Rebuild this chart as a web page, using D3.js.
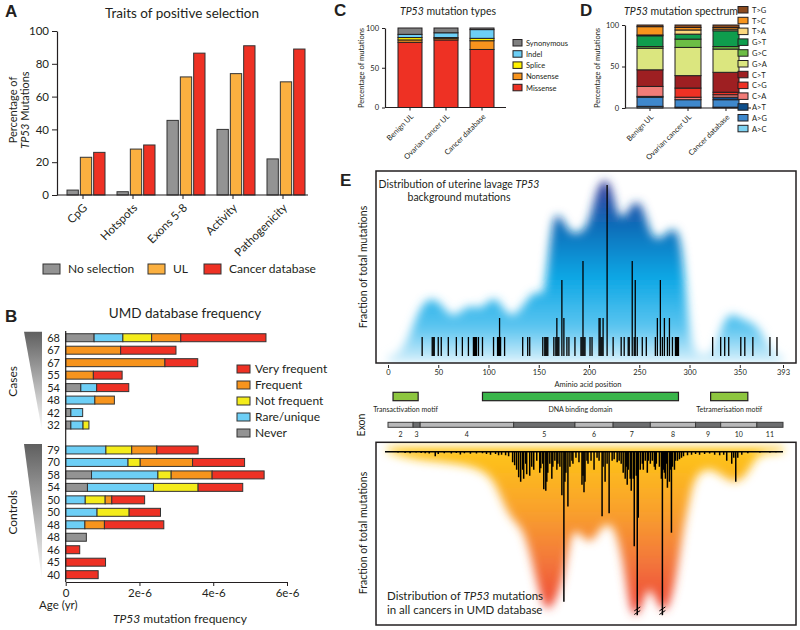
<!DOCTYPE html>
<html>
<head>
<meta charset="utf-8">
<script src="https://cdn.jsdelivr.net/npm/d3@7"></script>
<style>
  body { margin: 0; background: #fff; }
  svg { font-family: Lato, "Open Sans", sans-serif; }
</style>
</head>
<body>
<div id="chart"></div>
<script>
// ---------- Panel A data ----------
var aCats = ["CpG", "Hotspots", "Exons 5-8", "Activity", "Pathogenicity"];
var aNoSelection = [3, 2, 45.5, 40, 22];
var aUL = [23, 28, 72, 74, 69];
var aCancerDb = [26, 30.5, 86.5, 91, 89];
var aSeriesNames = ["No selection", "UL", "Cancer database"];
var aTicks = [0, 20, 40, 60, 80, 100];

// ---------- Panel B data (mutation frequency, x 1e-6) ----------
var bAges = [68, 67, 67, 55, 54, 48, 42, 32, 79, 70, 58, 54, 50, 50, 48, 48, 46, 45, 40];
var bGroup = ["Cases", "Cases", "Cases", "Cases", "Cases", "Cases", "Cases", "Cases",
  "Controls", "Controls", "Controls", "Controls", "Controls", "Controls", "Controls", "Controls", "Controls", "Controls", "Controls"];
var bNever = [0.77, 0, 0, 0, 0.41, 0, 0.14, 0.14, 0, 0, 0.70, 0.59, 0, 0, 0, 0.56, 0, 0, 0];
var bRare = [0.78, 0, 0, 0, 0.43, 0.79, 0.32, 0.33, 1.09, 1.69, 1.80, 1.79, 0.53, 0.85, 0.52, 0, 0, 0, 0];
var bNotFrequent = [0.78, 0, 0, 0, 0, 0, 0, 0.16, 0.70, 0.33, 0.36, 1.21, 0.54, 0.87, 0, 0, 0, 0, 0];
var bFrequent = [0.79, 1.49, 2.69, 0.75, 0, 0.53, 0, 0, 0.68, 1.42, 1.11, 0, 0.18, 0, 0.53, 0, 0, 0, 0];
var bVeryFrequent = [2.31, 1.50, 0.89, 0.78, 0.87, 0, 0, 0, 1.12, 1.41, 1.41, 1.21, 0.89, 0.85, 1.61, 0, 0.38, 1.08, 0.88];
var bKeys = ["Never", "Rare/unique", "Not frequent", "Frequent", "Very frequent"];
var bTicks = [0, 2, 4, 6];

// ---------- Panel C data ----------
var cCats = ["Benign UL", "Ovarian cancer UL", "Cancer database"];
var cKeys = ["Missense", "Nonsense", "Splice", "Indel", "Synonymous"];
var cMissense = [82, 85, 73];
var cNonsense = [3, 2, 11];
var cSplice = [3, 1, 3];
var cIndel = [4, 6, 11];
var cSynonymous = [8, 6, 2];

// ---------- Panel D data ----------
var dKeys = ["A>C", "A>G", "A>T", "C>A", "C>G", "C>T", "G>A", "G>C", "G>T", "T>A", "T>C", "T>G"];
var dBenign = [2, 11, 1, 12, 0, 20, 26, 2, 13, 1, 10, 2];
var dOvarian = [1, 9, 0, 3, 11, 15, 34, 10, 6, 5, 3, 3];
var dCancer = [1, 9, 3, 3, 3, 24, 28, 3, 19, 2, 2, 3];

// ---------- Panel E data ----------
var eTicks = [0, 50, 100, 150, 200, 250, 300, 350, 393];
var domNames = ["Transactivation motif", "DNA binding domain", "Tetramerisation motif"];
var domStart = [5, 94, 321];
var domEnd = [30, 289, 358];
var exonNames = ["2", "3", "4", "5", "6", "7", "8", "9", "10", "11"];
var exonStart = [1, 26, 33, 126, 187, 225, 262, 307, 332, 368];
var exonEnd = [25, 32, 125, 186, 224, 261, 306, 331, 367, 393];

// uterine lavage background mutations (count per position) and density envelope
var topEnvPos = [0, 8, 20, 30, 42, 55, 65, 80, 92, 100, 108, 115, 125, 135, 148, 155, 160, 165, 172, 180, 190, 200, 207, 215, 222, 228, 235, 242, 250, 256, 262, 270, 278, 285, 292, 297, 302, 315, 325, 332, 340, 350, 360, 369, 378, 386, 393];
var topEnvVal = [0, 0, 0.8, 2.4, 3.2, 2.6, 1.9, 2.8, 2.4, 2.9, 3.1, 2.4, 2.0, 2.7, 3.6, 2.9, 5.5, 7.5, 7.4, 6.5, 6.4, 6.9, 8.7, 9.4, 9.0, 7.4, 7.2, 8.0, 8.2, 7.4, 6.3, 6.1, 6.5, 6.8, 6.1, 2.9, 0.2, 0, 0.3, 1.6, 2.3, 2.0, 1.8, 1.5, 0.6, 0, 0];
var topMutPos = [34, 44, 45, 46, 50, 53, 60, 68, 74, 80, 85, 86, 87, 88, 90, 94, 105, 109, 110, 111,
  112, 116, 134, 139, 141, 154, 156, 157, 158, 159, 165, 167, 168, 169, 170, 173, 175, 178, 180, 186,
  192, 193, 194, 195, 196, 201, 203, 210, 211, 212, 213, 214, 218, 224, 232, 235, 239, 240, 243, 245,
  246, 248, 253, 257, 266, 268, 271, 273, 275, 278, 280, 283, 286, 287, 288, 289, 323, 331, 335, 339,
  351, 355, 363, 380, 387];
var topMutCount = [1, 1, 1, 1, 1, 1, 1, 1, 1, 1, 1, 1, 1, 1, 1, 1, 1, 1, 1, 2,
  1, 1, 1, 1, 1, 1, 1, 1, 1, 1, 1, 1, 2, 1, 1, 4, 2, 1, 1, 1,
  1, 1, 5, 1, 1, 1, 1, 2, 2, 1, 1, 2, 9, 1, 1, 1, 1, 1, 5, 1,
  4, 1, 1, 1, 1, 2, 4, 1, 2, 1, 2, 1, 1, 1, 1, 1, 1, 1, 1, 1,
  1, 1, 1, 1, 1];

// UMD database, % of all mutations per position and density envelope
var botEnvPos = [0, 25, 75, 101, 111, 121, 133, 141, 151, 159, 167, 174, 181, 187, 201, 211, 224, 234, 240, 247, 255, 260, 270, 277, 286, 293, 300, 306, 323, 340, 353, 363, 369, 393];
var botEnvVal = [0, 0.28, 0.4, 0.7, 1.4, 2.2, 2.5, 3.3, 4.8, 5.4, 4.9, 4.3, 2.9, 2.5, 3.2, 2.5, 2.3, 3.6, 5.2, 5.6, 4.9, 4.4, 5.2, 5.4, 4.4, 2.7, 1.6, 0.7, 0.5, 1.05, 0.95, 0.4, 0.05, 0];
var botMutPos = [10, 17, 22, 28, 33, 37, 41, 47, 50, 56, 63, 68, 72, 76, 82, 88, 94, 98, 102, 107,
  110, 113, 117, 120, 124, 126, 128, 130, 132, 134, 135, 137, 138, 141, 143, 145, 148, 151, 152, 154,
  155, 157, 158, 159, 161, 163, 164, 166, 168, 169, 171, 173, 175, 176, 177, 179, 181, 183, 184, 187,
  190, 193, 194, 195, 196, 198, 199, 202, 205, 208, 210, 213, 214, 216, 218, 220, 223, 225, 228, 230,
  232, 234, 236, 237, 238, 239, 241, 242, 244, 245, 247, 248, 249, 251, 253, 254, 256, 258, 259, 261,
  263, 265, 266, 267, 270, 272, 273, 274, 275, 276, 277, 278, 280, 281, 282, 283, 285, 286, 288, 290,
  292, 294, 298, 302, 306, 310, 315, 320, 325, 330, 334, 337, 342, 344, 346, 348, 352, 358, 370, 380, 386];
var botMutPct = [0.03, 0.04, 0.05, 0.03, 0.04, 0.05, 0.06, 0.15, 0.08, 0.05, 0.06, 0.04, 0.09, 0.05, 0.07, 0.06, 0.05, 0.08, 0.1, 0.08,
  0.12, 0.1, 0.12, 0.15, 0.35, 0.45, 0.6, 0.85, 1.0, 0.6, 0.9, 0.4, 0.75, 0.8, 0.5, 0.6, 0.3, 0.7, 0.55, 0.4,
  1.25, 1.3, 1.0, 0.7, 0.4, 0.9, 0.5, 0.3, 0.6, 0.4, 0.5, 1.45, 5.0, 1.0, 0.7, 1.83, 0.5, 0.3, 0.4, 0.2,
  0.35, 1.1, 0.8, 1.35, 1.0, 0.3, 0.4, 0.3, 0.6, 0.2, 0.3, 2.15, 0.5, 1.0, 0.4, 2.05, 0.3, 0.25, 0.35, 0.3,
  0.4, 0.7, 0.9, 0.5, 1.1, 0.6, 0.9, 1.3, 0.9, 3.15, 0.8, 7.0, 2.2, 0.6, 0.4, 0.6, 0.3, 0.7, 0.3, 0.4,
  0.3, 0.5, 0.6, 0.4, 0.5, 0.9, 6.2, 0.6, 0.7, 0.9, 0.4, 1.2, 1.0, 0.6, 2.7, 0.5, 0.6, 0.3, 0.3, 0.25,
  0.2, 0.15, 0.12, 0.1, 0.08, 0.1, 0.08, 0.06, 0.1, 0.12, 0.1, 0.3, 0.4, 0.2, 1.0, 0.2, 0.1, 0.05, 0.03, 0.03, 0.02];

var ink = "#231f20";

var svg = d3.select("#chart").append("svg")
  .attr("width", 800)
  .attr("height", 630);
svg.append("rect").attr("width", 800).attr("height", 630).attr("fill", "#fff");
var defs = svg.append("defs");

function styleAxis(g, fs) {
  g.attr("font-family", "Lato").attr("font-size", fs);
  g.select(".domain").attr("stroke", ink).attr("stroke-width", 1.2);
  g.selectAll(".tick line").attr("stroke", ink);
  g.selectAll(".tick text").attr("fill", ink);
}

function letter(t, x, y) {
  svg.append("text").attr("x", x).attr("y", y).text(t)
    .attr("font-family", "Liberation Sans, Arial, sans-serif")
    .attr("font-weight", "bold").attr("font-size", 17).attr("fill", ink);
}

// italic gene name helper
function geneText(sel, before, after) {
  if (before) sel.append("tspan").text(before);
  sel.append("tspan").attr("font-style", "italic").text("TP53");
  sel.append("tspan").text(after);
}

// ================= Panel A =================
letter("A", 5, 17);
var gA = svg.append("g");
gA.append("text").attr("x", 182).attr("y", 18).attr("text-anchor", "middle")
  .attr("font-size", 13.5).attr("fill", ink).text("Traits of positive selection");

var xA = d3.scaleBand().domain(aCats).range([58, 308]);
var xAin = d3.scaleBand().domain([0, 1, 2]).range([9, 47]).paddingInner(0.15);
var yA = d3.scaleLinear().domain([0, 100]).range([195, 31]);
var aColors = ["#939393", "#fbb040", "#ee3124"];
[aNoSelection, aUL, aCancerDb].forEach(function(vals, si) {
  gA.selectAll(null).data(vals).enter().append("rect")
    .attr("x", (d, i) => xA(aCats[i]) + xAin(si))
    .attr("y", d => yA(d))
    .attr("width", xAin.bandwidth())
    .attr("height", d => yA(0) - yA(d))
    .attr("fill", aColors[si])
    .attr("stroke", "#333").attr("stroke-width", 1);
});
var yAxisA = gA.append("g").attr("transform", "translate(57,0)")
  .call(d3.axisLeft(yA).tickValues(aTicks).tickSize(5).tickSizeOuter(0));
styleAxis(yAxisA, 11.5);
var xAxisA = gA.append("g").attr("transform", "translate(0,195)")
  .call(d3.axisBottom(xA).tickSize(4).tickSizeOuter(0));
styleAxis(xAxisA, 11.5);
xAxisA.select(".domain").attr("d", "M57,0H308");
xAxisA.selectAll(".tick text")
  .attr("x", -6).attr("y", 9).attr("dy", "0.35em")
  .attr("transform", "rotate(-45)").style("text-anchor", "end");

gA.append("text").attr("transform", "translate(17,110) rotate(-90)")
  .attr("text-anchor", "middle").attr("font-size", 11).attr("fill", ink).text("Percentage of");
var yLabA2 = gA.append("text").attr("transform", "translate(29,110) rotate(-90)")
  .attr("text-anchor", "middle").attr("font-size", 11).attr("fill", ink);
geneText(yLabA2, "", " Mutations");

var aLegX = [43, 148, 204];
aSeriesNames.forEach(function(n, i) {
  gA.append("rect").attr("x", aLegX[i]).attr("y", 264).attr("width", 17).attr("height", 10)
    .attr("fill", aColors[i]).attr("stroke", "#333");
  gA.append("text").attr("x", aLegX[i] + 25).attr("y", 273).attr("font-size", 12)
    .attr("fill", ink).text(n);
});

// ================= Panel B =================
letter("B", 5, 322);
var gB = svg.append("g");
gB.append("text").attr("x", 185).attr("y", 318).attr("text-anchor", "middle")
  .attr("font-size", 13.5).attr("fill", ink).text("UMD database frequency");

var bRows = bAges.map(function(age, i) {
  return {
    slot: bGroup[i] === "Cases" ? i : i + 1,
    age: age,
    "Never": bNever[i],
    "Rare/unique": bRare[i],
    "Not frequent": bNotFrequent[i],
    "Frequent": bFrequent[i],
    "Very frequent": bVeryFrequent[i]
  };
});
var bColors = d3.scaleOrdinal().domain(bKeys)
  .range(["#939393", "#6dcff6", "#f4ec1b", "#f7941d", "#ee3124"]);
var xB = d3.scaleLinear().domain([0, 6]).range([65.7, 287]);
var yB = d3.scaleBand().domain(d3.range(20)).range([331.5, 580.9])
  .paddingInner(0.36).paddingOuter(0.18);

var bStack = d3.stack().keys(bKeys)(bRows);
gB.selectAll("g.layer").data(bStack).enter().append("g")
  .attr("fill", d => bColors(d.key))
  .selectAll("rect").data(d => d.filter(s => s[1] - s[0] > 0)).enter().append("rect")
  .attr("x", d => xB(d[0]))
  .attr("y", d => yB(d.data.slot))
  .attr("width", d => xB(d[1]) - xB(d[0]))
  .attr("height", yB.bandwidth())
  .attr("stroke", "#333").attr("stroke-width", 1);

gB.selectAll("text.age").data(bRows).enter().append("text")
  .attr("x", 60).attr("y", d => yB(d.slot) + yB.bandwidth() / 2).attr("dy", "0.36em")
  .attr("text-anchor", "end").attr("font-size", 11).attr("fill", ink)
  .text(d => d.age);

gB.append("line").attr("x1", xB(0)).attr("x2", xB(0)).attr("y1", 331).attr("y2", 582)
  .attr("stroke", ink).attr("stroke-width", 1.2);
var xAxisB = gB.append("g").attr("transform", "translate(0,582)")
  .call(d3.axisBottom(xB).tickValues(bTicks).tickSize(4).tickSizeOuter(0)
    .tickFormat(d => d === 0 ? "0" : d + "e-6"));
styleAxis(xAxisB, 11.5);
gB.append("text").attr("x", 39).attr("y", 609).attr("font-size", 11.5).attr("fill", ink).text("Age (yr)");
var xLabB = gB.append("text").attr("x", 180).attr("y", 623).attr("text-anchor", "middle")
  .attr("font-size", 12).attr("fill", ink);
geneText(xLabB, "", " mutation frequency");

// group wedges
var wedgeGrad = defs.append("linearGradient").attr("id", "wedge")
  .attr("x1", 0).attr("y1", 0).attr("x2", 0).attr("y2", 1);
wedgeGrad.append("stop").attr("offset", 0).attr("stop-color", "#5f5f5f");
wedgeGrad.append("stop").attr("offset", 1).attr("stop-color", "#ffffff");
[["Cases", 0, 7], ["Controls", 9, 19]].forEach(function(g) {
  var top = yB(g[1]) - 2, bot = yB(g[2]) + yB.bandwidth() + 2;
  gB.append("path").attr("d", "M24," + top + "L42," + top + "L42," + bot + "Z")
    .attr("fill", "url(#wedge)");
  gB.append("text").attr("transform", "translate(17," + ((top + bot) / 2) + ") rotate(-90)")
    .attr("text-anchor", "middle").attr("font-size", 12).attr("fill", ink).text(g[0]);
});

var bLegKeys = bKeys.slice().reverse();
bLegKeys.forEach(function(k, i) {
  var y = 365 + i * 16;
  gB.append("rect").attr("x", 237).attr("y", y).attr("width", 13).attr("height", 8)
    .attr("fill", bColors(k)).attr("stroke", "#333");
  gB.append("text").attr("x", 255).attr("y", y + 8).attr("font-size", 12).attr("fill", ink).text(k);
});

// ================= Panel C =================
letter("C", 334, 16);
var gC = svg.append("g");
var titleC = gC.append("text").attr("x", 448).attr("y", 15).attr("text-anchor", "middle")
  .attr("font-size", 10.5).attr("fill", ink);
geneText(titleC, "", " mutation types");

var cRows = cCats.map(function(c, i) {
  return { cat: c, "Missense": cMissense[i], "Nonsense": cNonsense[i], "Splice": cSplice[i],
    "Indel": cIndel[i], "Synonymous": cSynonymous[i] };
});
var cColors = d3.scaleOrdinal().domain(cKeys)
  .range(["#ee3124", "#f7941d", "#fff200", "#6dcff6", "#808080"]);
var xC = d3.scaleBand().domain(cCats).range([386, 506]).padding(1 / 3);
var yC = d3.scaleLinear().domain([0, 100]).range([107.5, 28]);
gC.selectAll("g.layer").data(d3.stack().keys(cKeys)(cRows)).enter().append("g")
  .attr("fill", d => cColors(d.key))
  .selectAll("rect").data(d => d.filter(s => s[1] - s[0] > 0)).enter().append("rect")
  .attr("x", d => xC(d.data.cat))
  .attr("y", d => yC(d[1]))
  .attr("width", xC.bandwidth())
  .attr("height", d => yC(d[0]) - yC(d[1]))
  .attr("stroke", ink).attr("stroke-width", 1);
var yAxisC = gC.append("g").attr("transform", "translate(385,0)")
  .call(d3.axisLeft(yC).tickValues([0, 50, 100]).tickSize(3).tickSizeOuter(0));
styleAxis(yAxisC, 7.5);
var xAxisC = gC.append("g").attr("transform", "translate(0,107.5)")
  .call(d3.axisBottom(xC).tickSize(3).tickSizeOuter(0));
styleAxis(xAxisC, 7.5);
xAxisC.select(".domain").attr("d", "M385,0H506");
xAxisC.selectAll(".tick text").attr("x", -4).attr("y", 7).attr("dy", "0.35em")
  .attr("transform", "rotate(-45)").style("text-anchor", "end");
gC.append("text").attr("transform", "translate(364,68) rotate(-90)").attr("text-anchor", "middle")
  .attr("font-size", 7.5).attr("fill", ink).text("Percentage of mutations");
cKeys.slice().reverse().forEach(function(k, i) {
  var y = 39.5 + i * 11.2;
  gC.append("rect").attr("x", 513).attr("y", y).attr("width", 9).attr("height", 6.5)
    .attr("fill", cColors(k)).attr("stroke", ink);
  gC.append("text").attr("x", 526).attr("y", y + 6.3).attr("font-size", 7.5).attr("fill", ink).text(k);
});

// ================= Panel D =================
letter("D", 580, 16);
var gD = svg.append("g");
var titleD = gD.append("text").attr("x", 681).attr("y", 15).attr("text-anchor", "middle")
  .attr("font-size", 10.5).attr("fill", ink);
geneText(titleD, "", " mutation spectrum");

var dSeries = [dBenign, dOvarian, dCancer];
var dRows = cCats.map(function(c, i) {
  var r = { cat: c };
  dKeys.forEach(function(k, j) { r[k] = dSeries[i][j]; });
  return r;
});
var dColors = d3.scaleOrdinal().domain(dKeys)
  .range(["#7fd3f2", "#3f88cc", "#0d4e8b", "#f27c78", "#ee3124", "#9e1f22",
    "#dbe67f", "#6cbd45", "#0f9d4d", "#fdd77e", "#f7941d", "#8b4a1e"]);
var xD = d3.scaleBand().domain(cCats).range([625, 751]).padding(0.316);
var yD = d3.scaleLinear().domain([0, 100]).range([108, 25]);
gD.selectAll("g.layer").data(d3.stack().keys(dKeys)(dRows)).enter().append("g")
  .attr("fill", d => dColors(d.key))
  .selectAll("rect").data(d => d.filter(s => s[1] - s[0] > 0)).enter().append("rect")
  .attr("x", d => xD(d.data.cat))
  .attr("y", d => yD(d[1]))
  .attr("width", xD.bandwidth())
  .attr("height", d => yD(d[0]) - yD(d[1]))
  .attr("stroke", ink).attr("stroke-width", 1);
var yAxisD = gD.append("g").attr("transform", "translate(625,0)")
  .call(d3.axisLeft(yD).tickValues([0, 50, 100]).tickSize(3).tickSizeOuter(0));
styleAxis(yAxisD, 7.5);
var xAxisD = gD.append("g").attr("transform", "translate(0,108)")
  .call(d3.axisBottom(xD).tickSize(3).tickSizeOuter(0));
styleAxis(xAxisD, 7.5);
xAxisD.select(".domain").attr("d", "M625,0H751");
xAxisD.selectAll(".tick text").attr("x", -4).attr("y", 7).attr("dy", "0.35em")
  .attr("transform", "rotate(-45)").style("text-anchor", "end");
gD.append("text").attr("transform", "translate(600,68) rotate(-90)").attr("text-anchor", "middle")
  .attr("font-size", 7.5).attr("fill", ink).text("Percentage of mutations");
dKeys.slice().reverse().forEach(function(k, i) {
  var y = 6.5 + i * 10.8;
  gD.append("rect").attr("x", 738).attr("y", y).attr("width", 10).attr("height", 6.5)
    .attr("fill", dColors(k)).attr("stroke", ink);
  gD.append("text").attr("x", 752).attr("y", y + 6.3).attr("font-size", 7.5).attr("fill", ink).text(k);
});

// ================= Panel E =================
letter("E", 340, 186);
var gE = svg.append("g");
var xE = d3.scaleLinear().domain([0, 393]).range([388, 783]);
var yET = d3.scaleLinear().domain([0, 10]).range([356, 166]);
var yEB = d3.scaleLinear().domain([0, 5.5]).range([451.7, 616.7]);

var blur = defs.append("filter").attr("id", "blur")
  .attr("x", "-10%").attr("y", "-20%").attr("width", "120%").attr("height", "140%");
blur.append("feGaussianBlur").attr("stdDeviation", 5);

var gradTop = defs.append("linearGradient").attr("id", "gradTop")
  .attr("gradientUnits", "userSpaceOnUse").attr("x1", 0).attr("x2", 0).attr("y1", 172).attr("y2", 362);
[[0, "#3a2c8c"], [0.12, "#2d4ba6"], [0.3, "#0a70bb"], [0.55, "#0aa6e4"], [0.82, "#5cc5f0"], [1, "#d6f0fb"]]
  .forEach(s => gradTop.append("stop").attr("offset", s[0]).attr("stop-color", s[1]));
var gradBot = defs.append("linearGradient").attr("id", "gradBot")
  .attr("gradientUnits", "userSpaceOnUse").attr("x1", 0).attr("x2", 0).attr("y1", 452).attr("y2", 618);
[[0, "#fec418"], [0.35, "#f9a12c"], [0.65, "#f3783a"], [1, "#ee3e38"]]
  .forEach(s => gradBot.append("stop").attr("offset", s[0]).attr("stop-color", s[1]));

defs.append("clipPath").attr("id", "clipTop").append("rect")
  .attr("x", 376).attr("y", 171).attr("width", 420).attr("height", 192);
defs.append("clipPath").attr("id", "clipBot").append("rect")
  .attr("x", 376).attr("y", 442.3).attr("width", 420).attr("height", 182.7);

// top: background mutations
var topEnv = topEnvPos.map((p, i) => [p, topEnvVal[i]]);
var gTop = gE.append("g").attr("clip-path", "url(#clipTop)");
gTop.append("path").datum(topEnv)
  .attr("d", d3.area().curve(d3.curveBasis).x(d => xE(d[0])).y0(yET(-0.4)).y1(d => yET(d[1])))
  .attr("fill", "url(#gradTop)").attr("filter", "url(#blur)");
gTop.selectAll("line.mut").data(topMutPos).enter().append("line")
  .attr("x1", d => xE(d)).attr("x2", d => xE(d))
  .attr("y1", yET(0)).attr("y2", (d, i) => yET(topMutCount[i]))
  .attr("stroke", "#000").attr("stroke-width", 1.3);
gE.append("rect").attr("x", 376).attr("y", 171).attr("width", 420).attr("height", 192)
  .attr("fill", "none").attr("stroke", ink).attr("stroke-width", 1.5);

var topTitle = gE.append("text").attr("text-anchor", "middle").attr("font-size", 10.5).attr("fill", ink);
var tt1 = topTitle.append("tspan").attr("x", 459).attr("y", 188).text("Distribution of uterine lavage ");
tt1.append("tspan").attr("font-style", "italic").text("TP53");
topTitle.append("tspan").attr("x", 459).attr("y", 201).text("background mutations");
gE.append("text").attr("transform", "translate(367,267) rotate(-90)").attr("text-anchor", "middle")
  .attr("font-size", 10.5).attr("fill", ink).text("Fraction of total mutations");

var xAxisE = gE.append("g").attr("transform", "translate(0,365)")
  .call(d3.axisBottom(xE).tickValues(eTicks).tickSize(3).tickPadding(2));
styleAxis(xAxisE, 7.5);
xAxisE.select(".domain").remove();
gE.append("text").attr("x", 588).attr("y", 387).attr("text-anchor", "middle")
  .attr("font-size", 7.5).attr("fill", ink).text("Aminio acid position");

// protein domains
var domColors = ["#8dc63f", "#39b54a", "#8dc63f"];
domNames.forEach(function(n, i) {
  gE.append("rect").attr("x", xE(domStart[i])).attr("y", 392.3)
    .attr("width", xE(domEnd[i]) - xE(domStart[i])).attr("height", 8.4)
    .attr("fill", domColors[i]).attr("stroke", ink).attr("stroke-width", 1.2);
  gE.append("text").attr("x", (xE(domStart[i]) + xE(domEnd[i])) / 2).attr("y", 412)
    .attr("text-anchor", "middle").attr("font-size", 7).attr("fill", ink).text(n);
});

// exons
exonNames.forEach(function(n, i) {
  gE.append("rect").attr("x", xE(exonStart[i] - 1)).attr("y", 422.3)
    .attr("width", xE(exonEnd[i]) - xE(exonStart[i] - 1)).attr("height", 5)
    .attr("fill", i % 2 === 0 ? "#b8b8b9" : "#6d6e70").attr("stroke", "#3a3a3a").attr("stroke-width", 1);
  gE.append("text").attr("x", (xE(exonStart[i] - 1) + xE(exonEnd[i])) / 2).attr("y", 437)
    .attr("text-anchor", "middle").attr("font-size", 7).attr("fill", ink).text(n);
});
gE.append("text").attr("transform", "translate(365,425) rotate(-90)").attr("text-anchor", "middle")
  .attr("font-size", 10.5).attr("fill", ink).text("Exon");

// bottom: all cancers in UMD database
var botEnv = botEnvPos.map((p, i) => [p, botEnvVal[i]]);
var gBot = gE.append("g").attr("clip-path", "url(#clipBot)");
gBot.append("path").datum(botEnv)
  .attr("d", d3.area().curve(d3.curveBasis).x(d => xE(d[0])).y0(yEB(-0.15)).y1(d => yEB(d[1])))
  .attr("fill", "url(#gradBot)").attr("filter", "url(#blur)");
var capPct = 5.45;
gBot.selectAll("line.mut").data(botMutPos).enter().append("line")
  .attr("x1", d => xE(d)).attr("x2", d => xE(d))
  .attr("y1", yEB(0)).attr("y2", (d, i) => yEB(Math.min(botMutPct[i], capPct)))
  .attr("stroke", "#000").attr("stroke-width", 1.5);
gBot.append("line").attr("x1", xE(-3)).attr("x2", xE(393)).attr("y1", yEB(0)).attr("y2", yEB(0))
  .attr("stroke", "#000").attr("stroke-width", 1.5);
// axis break marks on truncated hotspots
botMutPos.forEach(function(p, i) {
  if (botMutPct[i] > capPct) {
    [-1.8, 1.8].forEach(function(o) {
      var yb = yEB(5.3) + o;
      gBot.append("line").attr("x1", xE(p) - 3).attr("x2", xE(p) + 3)
        .attr("y1", yb + 2).attr("y2", yb - 2).attr("stroke", "#000").attr("stroke-width", 1);
    });
  }
});
gE.append("rect").attr("x", 376).attr("y", 442.3).attr("width", 420).attr("height", 182.7)
  .attr("fill", "none").attr("stroke", ink).attr("stroke-width", 1.5);

var botTitle = gE.append("text").attr("font-size", 11.5).attr("fill", ink);
var bt1 = botTitle.append("tspan").attr("x", 387).attr("y", 600).text("Distribution of ");
bt1.append("tspan").attr("font-style", "italic").text("TP53");
bt1.append("tspan").text(" mutations");
botTitle.append("tspan").attr("x", 387).attr("y", 614).text("in all cancers in UMD database");
gE.append("text").attr("transform", "translate(367,533) rotate(-90)").attr("text-anchor", "middle")
  .attr("font-size", 10.5).attr("fill", ink).text("Fraction of total mutations");
</script>
</body>
</html>
